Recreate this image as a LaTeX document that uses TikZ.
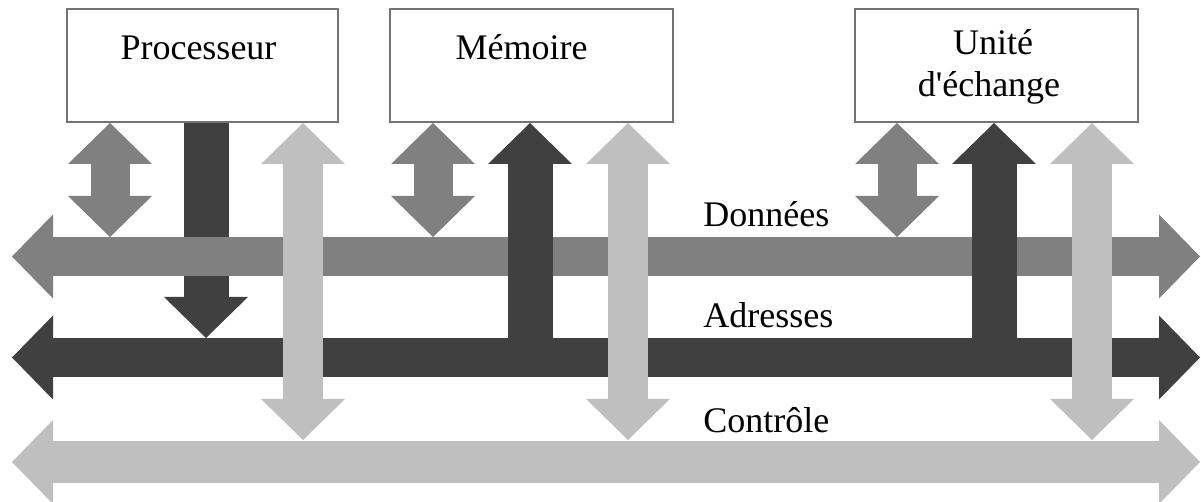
\documentclass[tikz,border=0pt]{standalone}
\usepackage{fontspec}
\setmainfont{Liberation Serif}
\usetikzlibrary{arrows.meta}
\usetikzlibrary{calc}

\definecolor{busdat}{gray}{0.5}
\definecolor{busadr}{gray}{0.25}
\definecolor{busctl}{gray}{0.75}

\tikzset{bigtip/.tip={Triangle[length=20.5pt,width=42pt,line width=0pt]}}

\begin{document}
\begin{tikzpicture}[x=0.5pt,y=-0.5pt,
  box/.style={draw=black!55, line width=1pt, fill=white, minimum height=56.5pt, inner sep=0pt},
  txt/.style={anchor=base, inner sep=0pt, font=\fontsize{18}{21}\selectfont},
  dat/.style={busdat, line width=19.5pt},
  adr/.style={busadr, line width=22.5pt},
  ctl/.style={busctl, line width=20pt}]
\useasboundingbox (0,0) rectangle (1201,502);

% boites
\node[box, minimum width=135.5pt] (proc) at (202.5,65.5) {};
\node[box, minimum width=141.5pt] (mem) at (531.5,65.5) {};
\node[box, minimum width=141.5pt] (ue) at (996.5,65.5) {};
\node[txt] (proctxt) at (198.5,60) {Processeur};
\node[txt] (memtxt) at (521.5,60) {Mémoire};
\node[txt] (uetxt) at (993,55) {Unité};
\node[txt] (uetxtb) at (989,97) {d\textquotesingle échange};

% bus
\coordinate (datL) at (12,256.5);
\coordinate (datR) at (1200,256.5);
\coordinate (adrL) at (12,357.5);
\coordinate (adrR) at (1200,357.5);
\coordinate (ctlL) at (12,462);
\coordinate (ctlR) at (1200,462);

% donnees
\foreach \b/\dx in {proc/-92.5, mem/-98.5, ue/-99.5}
 \draw[dat, bigtip-bigtip] ($(\b.south)+(\dx,0)$) -- ($(\b.south |- datL)+(\dx,-19.5)$);

% adresses (processeur sous le bus de donnees)
\draw[adr, -bigtip] ($(proc.south)+(3.5,0)$) -- ($(proc.south |- adrL)+(3.5,-19.5)$);
\draw[busdat, line width=19.5pt, bigtip-bigtip] (datL) -- (datR);
\foreach \b/\dx in {mem/-1.5, ue/-2.5}
 \draw[adr, -bigtip] ($(\b.south |- adrL)+(\dx,-19.5)$) -- ($(\b.south)+(\dx,0)$);
\draw[busadr, line width=19.5pt, bigtip-bigtip] (adrL) -- (adrR);
\draw[busctl, line width=21pt, bigtip-bigtip] (ctlL) -- (ctlR);

% controle
\foreach \b/\dx in {proc/100.5, mem/96.5, ue/95.5}
 \draw[ctl, bigtip-bigtip] ($(\b.south)+(\dx,0)$) -- ($(\b.south |- ctlL)+(\dx,-22)$);

\node[txt, anchor=base west] (dattxt) at (703,227) {Données};
\node[txt, anchor=base west] (adrtxt) at (703,328) {Adresses};
\node[txt, anchor=base west] (ctltxt) at (703,433) {Contrôle};
\end{tikzpicture}
\end{document}
